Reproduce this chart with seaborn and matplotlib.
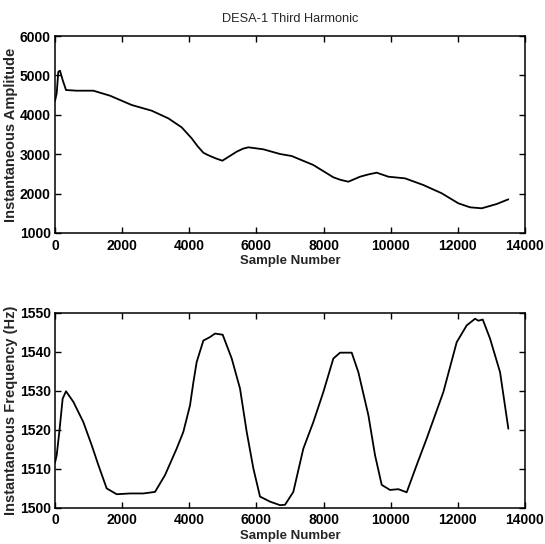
import matplotlib
matplotlib.use("Agg")
import matplotlib.pyplot as plt
import seaborn as sns
import pandas as pd

# Top panel: instantaneous amplitude
amp_x = [0, 50, 99, 149, 228, 328, 645, 1142, 1638, 2284, 2880, 3376, 3773, 4071,
         4250, 4419, 4550, 4667, 4800, 4985, 5200, 5412, 5600, 5760, 6206, 6703,
         7050, 7695, 8291, 8500, 8738, 9086, 9350, 9583, 9929, 10427, 10972, 11519,
         12014, 12363, 12711, 13158, 13504]
amp_y = [4350, 4546, 5094, 5119, 4883, 4629, 4612, 4612, 4485, 4249, 4104, 3910,
         3682, 3403, 3200, 3038, 2980, 2937, 2890, 2835, 2950, 3064, 3140, 3175,
         3124, 3005, 2954, 2726, 2414, 2350, 2302, 2429, 2490, 2531, 2429, 2387,
         2218, 2008, 1754, 1652, 1627, 1736, 1855]

# Bottom panel: instantaneous frequency
freq_x = [0, 50, 129, 228, 328, 546, 844, 1092, 1291, 1539, 1837, 2234, 2631, 2979,
          3277, 3624, 3823, 4022, 4120, 4220, 4419, 4617, 4766, 4995, 5264, 5511,
          5710, 5909, 6107, 6405, 6703, 6852, 7099, 7397, 7695, 7993, 8291, 8490,
          8838, 9036, 9334, 9533, 9732, 9980, 10227, 10476, 10774, 11072, 11568,
          11966, 12264, 12512, 12611, 12741, 12959, 13257, 13504]
freq_y = [1511.5, 1513.4, 1519.4, 1527.9, 1529.8, 1527.1, 1521.9, 1516.0, 1510.9,
          1504.9, 1503.4, 1503.6, 1503.6, 1504.0, 1508.3, 1515.1, 1519.4, 1526.2,
          1532.0, 1537.3, 1542.8, 1543.7, 1544.6, 1544.3, 1538.2, 1530.5, 1519.4,
          1510.0, 1502.8, 1501.5, 1500.6, 1500.7, 1504.0, 1515.1, 1521.9, 1529.6,
          1538.2, 1539.7, 1539.7, 1534.7, 1523.7, 1513.4, 1505.8, 1504.5, 1504.7,
          1503.9, 1510.9, 1517.7, 1529.6, 1542.4, 1546.7, 1548.4, 1547.9, 1548.2,
          1543.3, 1534.7, 1520.2]

title = "DESA-1 Third Harmonic"
xlabel = "Sample Number"
ylabel_top = "Instantaneous Amplitude"
ylabel_bot = "Instantaneous Frequency (Hz)"
xticks = [0, 2000, 4000, 6000, 8000, 10000, 12000, 14000]
yticks_top = [1000, 2000, 3000, 4000, 5000, 6000]
yticks_bot = [1500, 1510, 1520, 1530, 1540, 1550]

sns.set_theme(style="white")
plt.rcParams['font.family'] = ['Liberation Sans', 'DejaVu Sans']

W, H = 545, 544
fig = plt.figure(figsize=(W / 100, H / 100), dpi=100)
ax1 = fig.add_axes([55 / W, 1 - 233 / H, 470 / W, 197 / H])
ax2 = fig.add_axes([55 / W, 1 - 507.5 / H, 470 / W, 195 / H])

df1 = pd.DataFrame({"x": amp_x, "y": amp_y})
df2 = pd.DataFrame({"x": freq_x, "y": freq_y})
sns.lineplot(data=df1, x="x", y="y", ax=ax1, color="black", linewidth=1.3)
sns.lineplot(data=df2, x="x", y="y", ax=ax2, color="black", linewidth=1.3)

for ax, yl, yt in [(ax1, ylabel_top, yticks_top), (ax2, ylabel_bot, yticks_bot)]:
    ax.set_xlim(0, 14000)
    ax.set_ylim(yt[0], yt[-1])
    ax.set_xticks(xticks)
    ax.set_yticks(yt)
    ax.set_xticklabels([str(v) for v in xticks], fontsize=10, fontweight="bold")
    ax.set_yticklabels([str(v) for v in yt], fontsize=10, fontweight="bold")
    ax.set_xlabel(xlabel, fontsize=9.5, fontweight="bold", labelpad=2)
    ax.set_ylabel(yl, fontsize=10.5, fontweight="bold", labelpad=1)
    ax.tick_params(direction="in", length=4, width=1, top=True, right=True,
                   bottom=True, left=True, colors="black")
    ax.tick_params(axis="x", pad=4)
    ax.tick_params(axis="y", pad=3)
    for s in ax.spines.values():
        s.set_color("black")
        s.set_linewidth(1.1)
        s.set_visible(True)

ax1.set_title(title, fontsize=9.2, pad=10)

fig.savefig("out.png", dpi=100, facecolor="white")
